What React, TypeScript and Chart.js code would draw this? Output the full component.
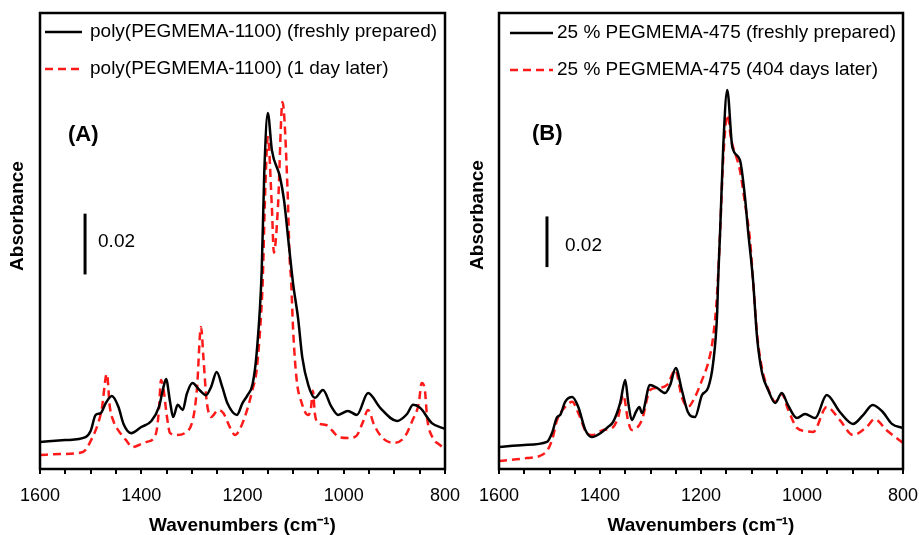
import React, { useEffect, useRef } from 'react';
import { Chart, registerables } from 'chart.js';

Chart.register(...registerables);

const FONT = '"Liberation Sans", Arial, Helvetica, sans-serif';
const RED = '#ff1a1a';

// ---------- texts & ticks ----------
const xAxisTitle = 'Wavenumbers (cm\u207B\u00B9)';
const yAxisTitle = 'Absorbance';
const xLabelledTicks = [1600, 1400, 1200, 1000, 800];
const xMinorStep = 50;
const scaleBarSize = 0.02;
const scaleBarLabel = '0.02';

// ---------- Panel A ----------
const panelLabelA = '(A)';
const seriesNamesA = ['poly(PEGMEMA-1100) (freshly prepared)', 'poly(PEGMEMA-1100) (1 day later)'];
const wnA_fresh = [1600, 1550, 1510, 1500, 1490, 1480, 1470, 1458, 1445, 1435, 1420, 1400, 1380, 1365, 1356, 1351, 1343, 1337, 1328, 1318, 1310, 1299, 1285, 1272, 1262, 1251, 1240, 1230, 1211, 1200, 1190, 1180, 1172, 1162, 1157, 1150, 1142, 1126, 1118, 1108, 1100, 1090, 1082, 1070, 1057, 1041, 1025, 1011, 992, 974, 952, 928, 895, 875, 863, 849, 826, 800];
const absA_fresh = [0.0089, 0.0095, 0.0105, 0.0125, 0.0178, 0.0184, 0.0217, 0.0240, 0.0204, 0.0148, 0.0118, 0.0138, 0.0158, 0.0204, 0.0270, 0.0296, 0.0220, 0.0171, 0.0211, 0.0194, 0.0247, 0.0283, 0.0260, 0.0243, 0.0270, 0.0319, 0.0270, 0.0217, 0.0178, 0.0217, 0.0243, 0.0280, 0.0382, 0.0655, 0.0974, 0.1171, 0.1049, 0.0961, 0.0885, 0.0730, 0.0609, 0.0493, 0.0368, 0.0276, 0.0234, 0.0260, 0.0207, 0.0178, 0.0191, 0.0178, 0.0250, 0.0201, 0.0158, 0.0181, 0.0211, 0.0201, 0.0151, 0.0132];
const wnA_aged = [1600, 1560, 1515, 1497, 1485, 1478, 1468, 1462, 1455, 1440, 1430, 1418, 1400, 1389, 1375, 1369, 1365, 1361, 1356, 1350, 1343, 1330, 1314, 1297, 1290, 1282, 1277, 1271, 1262, 1248, 1238, 1225, 1215, 1205, 1191, 1180, 1172, 1162, 1160, 1155, 1150, 1142, 1138, 1130, 1121, 1111, 1107, 1104, 1100, 1093, 1083, 1071, 1065, 1061, 1057, 1050, 1035, 1022, 1010, 990, 975, 962, 952, 940, 925, 903, 880, 864, 852, 846, 840, 835, 825, 810, 800];
const absA_aged = [0.0046, 0.0049, 0.0056, 0.0102, 0.0151, 0.0197, 0.0313, 0.0204, 0.0158, 0.0115, 0.0095, 0.0072, 0.0082, 0.0089, 0.0102, 0.0132, 0.0197, 0.0293, 0.0263, 0.0181, 0.0118, 0.0112, 0.0118, 0.0171, 0.0263, 0.0467, 0.0362, 0.0227, 0.0171, 0.0194, 0.0184, 0.0138, 0.0112, 0.0132, 0.0194, 0.0263, 0.0326, 0.0546, 0.0622, 0.0921, 0.1092, 0.0862, 0.0711, 0.0862, 0.1207, 0.0918, 0.0697, 0.0622, 0.0457, 0.0293, 0.0217, 0.0178, 0.0197, 0.0257, 0.0181, 0.0151, 0.0145, 0.0125, 0.0105, 0.0102, 0.0109, 0.0155, 0.0194, 0.0145, 0.0105, 0.0086, 0.0105, 0.0161, 0.0214, 0.0283, 0.0263, 0.0164, 0.0105, 0.0079, 0.0066];

// ---------- Panel B ----------
const panelLabelB = '(B)';
const seriesNamesB = ['25 % PEGMEMA-475 (freshly prepared)', '25 % PEGMEMA-475 (404 days later)'];
const wnB_fresh = [1600, 1550, 1505, 1495, 1485, 1479, 1469, 1455, 1443, 1429, 1416, 1396, 1384, 1374, 1360, 1350, 1344, 1337, 1329, 1322, 1317, 1301, 1287, 1271, 1261, 1250, 1238, 1226, 1212, 1198, 1186, 1176, 1168, 1166, 1162, 1156, 1148, 1138, 1123, 1113, 1107, 1097, 1089, 1079, 1067, 1053, 1040, 1028, 1010, 994, 974, 951, 925, 899, 879, 860, 840, 822, 800];
const absB_fresh = [0.0087, 0.0095, 0.0107, 0.0142, 0.0205, 0.0213, 0.0265, 0.0284, 0.0245, 0.0154, 0.0126, 0.0146, 0.0166, 0.0186, 0.0261, 0.0351, 0.0261, 0.0193, 0.0225, 0.0245, 0.0221, 0.0332, 0.0320, 0.0300, 0.0332, 0.0399, 0.0312, 0.0225, 0.0205, 0.0292, 0.0320, 0.0418, 0.0616, 0.0750, 0.0944, 0.1271, 0.1496, 0.1271, 0.1220, 0.1074, 0.0944, 0.0746, 0.0521, 0.0379, 0.0312, 0.0261, 0.0300, 0.0253, 0.0201, 0.0217, 0.0201, 0.0292, 0.0225, 0.0178, 0.0213, 0.0253, 0.0225, 0.0178, 0.0162];
const wnB_aged = [1600, 1545, 1509, 1495, 1485, 1469, 1455, 1443, 1426, 1414, 1394, 1376, 1364, 1354, 1344, 1337, 1317, 1301, 1287, 1267, 1251, 1238, 1226, 1212, 1198, 1186, 1176, 1168, 1162, 1156, 1148, 1140, 1123, 1113, 1103, 1097, 1089, 1079, 1067, 1053, 1040, 1028, 1010, 994, 978, 951, 925, 899, 872, 856, 833, 800];
const absB_aged = [0.0032, 0.0043, 0.0063, 0.0114, 0.0193, 0.0245, 0.0265, 0.0221, 0.0142, 0.0134, 0.0154, 0.0162, 0.0205, 0.0292, 0.0186, 0.0154, 0.0193, 0.0312, 0.0320, 0.0332, 0.0391, 0.0284, 0.0245, 0.0284, 0.0351, 0.0418, 0.0521, 0.0695, 0.0944, 0.1224, 0.1398, 0.1299, 0.1180, 0.1050, 0.0904, 0.0746, 0.0533, 0.0395, 0.0316, 0.0265, 0.0296, 0.0237, 0.0162, 0.0150, 0.0146, 0.0245, 0.0193, 0.0134, 0.0166, 0.0197, 0.0154, 0.0103];

// ---------- layout / style config ----------
type PanelCfg = {
  left: number; width: number; padLeft: number; padRight: number; yMax: number;
  label: string; names: string[]; wn1: number[]; a1: number[]; wn2: number[]; a2: number[];
  labelX: number; labelY: number;
  legX0: number; legX1: number; legTextX: number; legY: number[];
  barWn: number; barBase: number; barLabelDx: number; barLabelY: number;
  yTitleDx: number; yTitleY: number;
};

const panels: PanelCfg[] = [
  {
    left: 0, width: 460, padLeft: 40, padRight: 15, yMax: 0.15,
    label: panelLabelA, names: seriesNamesA, wn1: wnA_fresh, a1: absA_fresh, wn2: wnA_aged, a2: absA_aged,
    labelX: 28, labelY: 135,
    legX0: 5, legX1: 42, legTextX: 50, legY: [32, 69],
    barWn: 1511, barBase: 0.064, barLabelDx: 13, barLabelY: 242,
    yTitleDx: -22, yTitleY: 216,
  },
  {
    left: 460, width: 459, padLeft: 39, padRight: 16, yMax: 0.18,
    label: panelLabelB, names: seriesNamesB, wn1: wnB_fresh, a1: absB_fresh, wn2: wnB_aged, a2: absB_aged,
    labelX: 33, labelY: 134,
    legX0: 11, legX1: 54, legTextX: 58, legY: [33, 70],
    barWn: 1505, barBase: 0.0797, barLabelDx: 18, barLabelY: 246,
    yTitleDx: -21, yTitleY: 215,
  },
];

const toPoints = (xs: number[], ys: number[]) => xs.map((x, i) => ({ x, y: ys[i] }));

function makeDecor(p: PanelCfg) {
  return {
    id: 'decor',
    afterDraw(chart: any) {
      const { ctx, chartArea: a, scales } = chart;
      const xs = scales.x, ys = scales.y;
      ctx.save();
      // frame
      ctx.setLineDash([]);
      ctx.strokeStyle = '#000';
      ctx.lineWidth = 2.5;
      ctx.strokeRect(a.left, a.top, a.right - a.left, a.bottom - a.top);
      // y-axis title
      ctx.save();
      ctx.translate(a.left + p.yTitleDx, p.yTitleY);
      ctx.rotate(-Math.PI / 2);
      ctx.font = `bold 19px ${FONT}`;
      ctx.fillStyle = '#000';
      ctx.textAlign = 'center';
      ctx.textBaseline = 'middle';
      ctx.fillText(yAxisTitle, 0, 0);
      ctx.restore();
      // legend
      chart.data.datasets.forEach((ds: any, i: number) => {
        const yy = p.legY[i];
        ctx.strokeStyle = ds.borderColor;
        ctx.lineWidth = ds.borderWidth;
        ctx.setLineDash(ds.borderDash || []);
        ctx.beginPath();
        ctx.moveTo(a.left + p.legX0, yy);
        ctx.lineTo(a.left + p.legX1, yy);
        ctx.stroke();
        ctx.setLineDash([]);
        ctx.fillStyle = '#000';
        ctx.font = `19px ${FONT}`;
        ctx.textAlign = 'left';
        ctx.textBaseline = 'middle';
        ctx.fillText(ds.label, a.left + p.legTextX, yy);
      });
      // panel label
      ctx.font = `bold 22px ${FONT}`;
      ctx.fillStyle = '#000';
      ctx.textAlign = 'left';
      ctx.textBaseline = 'middle';
      ctx.fillText(p.label, a.left + p.labelX, p.labelY);
      // scale bar
      const bx = xs.getPixelForValue(p.barWn);
      const y0 = ys.getPixelForValue(p.barBase);
      const y1 = ys.getPixelForValue(p.barBase + scaleBarSize);
      ctx.strokeStyle = '#000';
      ctx.lineWidth = 3;
      ctx.beginPath();
      ctx.moveTo(bx, y0);
      ctx.lineTo(bx, y1);
      ctx.stroke();
      ctx.font = `19px ${FONT}`;
      ctx.fillText(scaleBarLabel, bx + p.barLabelDx, p.barLabelY);
      ctx.restore();
    },
  };
}

function Panel({ p }: { p: PanelCfg }) {
  const ref = useRef<HTMLCanvasElement>(null);
  useEffect(() => {
    const chart = new Chart(ref.current as HTMLCanvasElement, {
      type: 'line',
      data: {
        datasets: [
          {
            label: p.names[0],
            data: toPoints(p.wn1, p.a1),
            borderColor: '#000',
            borderWidth: 2.5,
            pointRadius: 0,
            fill: false,
            cubicInterpolationMode: 'monotone',
          },
          {
            label: p.names[1],
            data: toPoints(p.wn2, p.a2),
            borderColor: RED,
            borderWidth: 2.5,
            borderDash: [8, 5],
            pointRadius: 0,
            fill: false,
            cubicInterpolationMode: 'monotone',
          },
        ],
      },
      options: {
        animation: false,
        responsive: false,
        devicePixelRatio: 1,
        layout: { padding: { left: p.padLeft, right: p.padRight, top: 13, bottom: 0 } },
        scales: {
          x: {
            type: 'linear',
            reverse: true,
            min: 800,
            max: 1600,
            afterFit: (s: any) => {
              s.height = 66;
              s.paddingLeft = 0;
              s.paddingRight = 0;
            },
            ticks: {
              stepSize: xMinorStep,
              autoSkip: false,
              maxRotation: 0,
              padding: 11,
              color: '#000',
              font: { family: FONT, size: 18 },
              callback: (v: any) => (xLabelledTicks.includes(Number(v)) ? String(v) : ''),
            },
            grid: { display: true, drawOnChartArea: false, drawTicks: true, tickLength: 5, color: '#000', lineWidth: 2 },
            border: { display: false },
            title: {
              display: true,
              text: xAxisTitle,
              color: '#000',
              font: { family: FONT, size: 19, weight: 'bold', lineHeight: 1 },
              padding: { top: 0, bottom: 0 },
            },
          },
          y: { display: false, min: 0, max: p.yMax },
        },
        plugins: { legend: { display: false }, tooltip: { enabled: false } },
      } as any,
      plugins: [makeDecor(p)],
    });
    return () => chart.destroy();
  }, [p]);
  return (
    <div style={{ position: 'absolute', left: p.left, top: 0, width: p.width, height: 535 }}>
      <canvas ref={ref} width={p.width} height={535} style={{ display: 'block' }} />
    </div>
  );
}

export default function App() {
  return (
    <div style={{ position: 'absolute', left: 0, top: 0, width: 919, height: 535, background: '#fff', overflow: 'hidden' }}>
      {panels.map((p) => (
        <Panel key={p.label} p={p} />
      ))}
    </div>
  );
}
